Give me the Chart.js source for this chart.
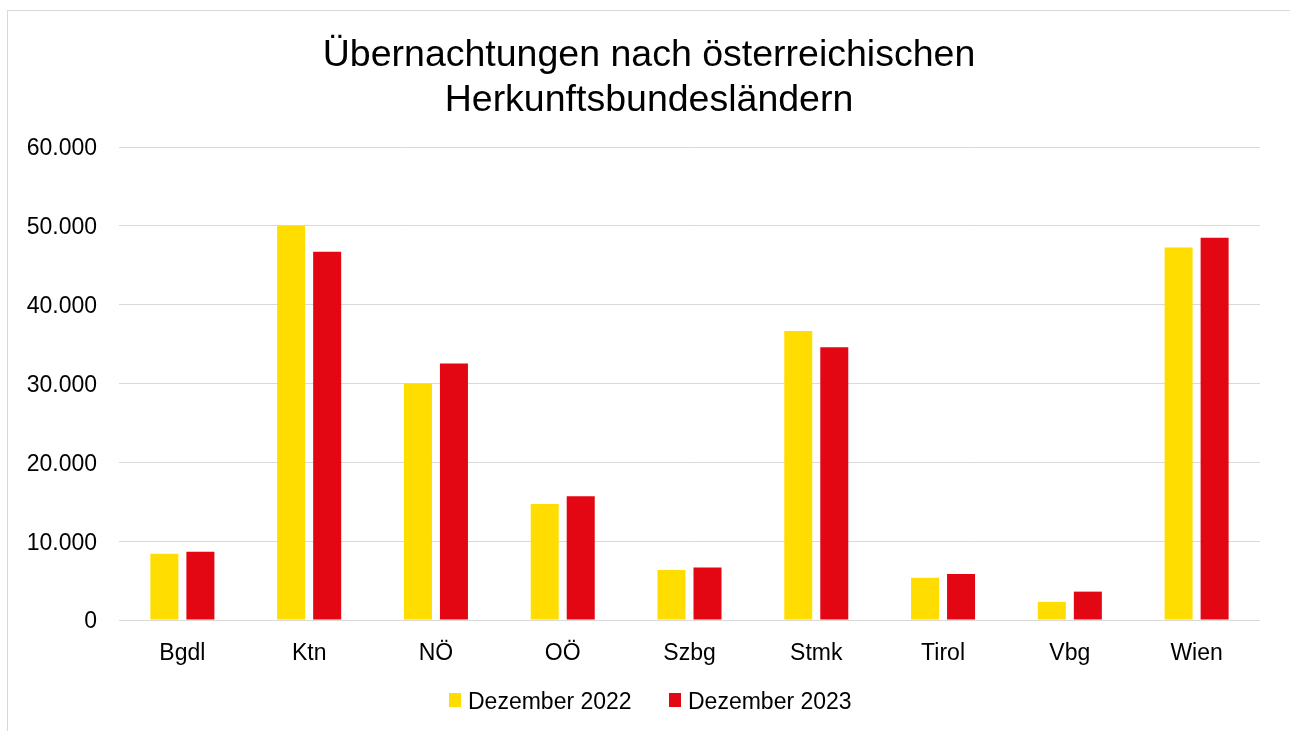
<!DOCTYPE html>
<html><head><meta charset="utf-8">
<script src="https://cdn.jsdelivr.net/npm/chart.js@4.4.1/dist/chart.umd.min.js"></script>
<style>
html,body{margin:0;padding:0;background:#fff;}
#wrap{position:relative;width:1290px;height:731px;overflow:hidden;background:#fff;}
#frame{position:absolute;left:7px;top:10px;width:1300px;height:800px;border:1px solid #d9d9d9;box-sizing:border-box;}
canvas{position:absolute;left:0;top:0;}
.lg-box{position:absolute;width:12px;height:14px;top:693px;}
.lg-txt{position:absolute;top:689px;font-family:'Liberation Sans',Arial,sans-serif;font-size:23px;line-height:24px;color:#000;white-space:nowrap;}
</style></head><body>
<div id="wrap"><div id="frame"></div><canvas id="c" width="1290" height="731"></canvas>
<div id="legend"></div></div>
<script>
const categories = ['Bgdl', 'Ktn', 'NÖ', 'OÖ', 'Szbg', 'Stmk', 'Tirol', 'Vbg', 'Wien'];
const seriesNames = ['Dezember 2022', 'Dezember 2023'];
const dez2022 = [8400, 50000, 30000, 14700, 6350, 36650, 5350, 2300, 47250];
const dez2023 = [8650, 46700, 32550, 15700, 6650, 34600, 5850, 3600, 48500];
const yTicks = [0, 10000, 20000, 30000, 40000, 50000, 60000];
const titleLines = ['Übernachtungen nach österreichischen', 'Herkunftsbundesländern'];
const seriesColors = ['#FFDD00', '#E30613'];

const FONT = "'Liberation Sans', Arial, sans-serif";
function fmt(v) { return String(v).replace(/\B(?=(\d{3})+(?!\d))/g, '.'); }

// HTML legend (series names from the arrays above)
const legendPos = [{ box: 449, txt: 468 }, { box: 669, txt: 688 }];
const lg = document.getElementById('legend');
seriesNames.forEach((name, i) => {
  const b = document.createElement('div');
  b.className = 'lg-box'; b.style.left = legendPos[i].box + 'px'; b.style.background = seriesColors[i];
  const t = document.createElement('div');
  t.className = 'lg-txt'; t.style.left = legendPos[i].txt + 'px'; t.textContent = name;
  lg.appendChild(b); lg.appendChild(t);
});

new Chart(document.getElementById('c'), {
  type: 'bar',
  data: {
    labels: categories,
    datasets: [
      { label: seriesNames[0], data: dez2022, backgroundColor: seriesColors[0], borderWidth: 0 },
      { label: seriesNames[1], data: dez2023, backgroundColor: seriesColors[1], borderWidth: 0 }
    ]
  },
  options: {
    responsive: false,
    animation: false,
    devicePixelRatio: 1,
    categoryPercentage: 0.568,
    barPercentage: 0.778,
    layout: { padding: { left: 8, right: 0, top: 0, bottom: 61 } },
    plugins: {
      tooltip: { enabled: false },
      legend: { display: false },
      title: {
        display: true,
        text: titleLines,
        color: '#000',
        font: { family: FONT, size: 37.5, weight: 'normal', lineHeight: 1.18 },
        padding: { top: 34, bottom: 24.5 }
      }
    },
    scales: {
      x: {
        grid: { display: false, drawTicks: false },
        border: { display: false },
        ticks: { color: '#000', font: { family: FONT, size: 23 }, padding: 20, maxRotation: 0 },
        afterFit: (s) => { s.height = 50; }
      },
      y: {
        min: 0, max: 60000,
        afterBuildTicks: (s) => { s.ticks = yTicks.map(v => ({ value: v })); },
        grid: { color: '#d9d9d9', lineWidth: 1, drawTicks: false },
        border: { display: false },
        ticks: { color: '#000', font: { family: FONT, size: 23 }, padding: 22, labelOffset: 2, callback: (v) => fmt(v) },
        afterFit: (s) => { s.width = 111; }
      },
      y2: {
        position: 'right',
        display: true,
        grid: { display: false, drawTicks: false },
        border: { display: false },
        ticks: { display: false },
        afterFit: (s) => { s.width = 30; }
      }
    }
  }
});
</script>
</body></html>
